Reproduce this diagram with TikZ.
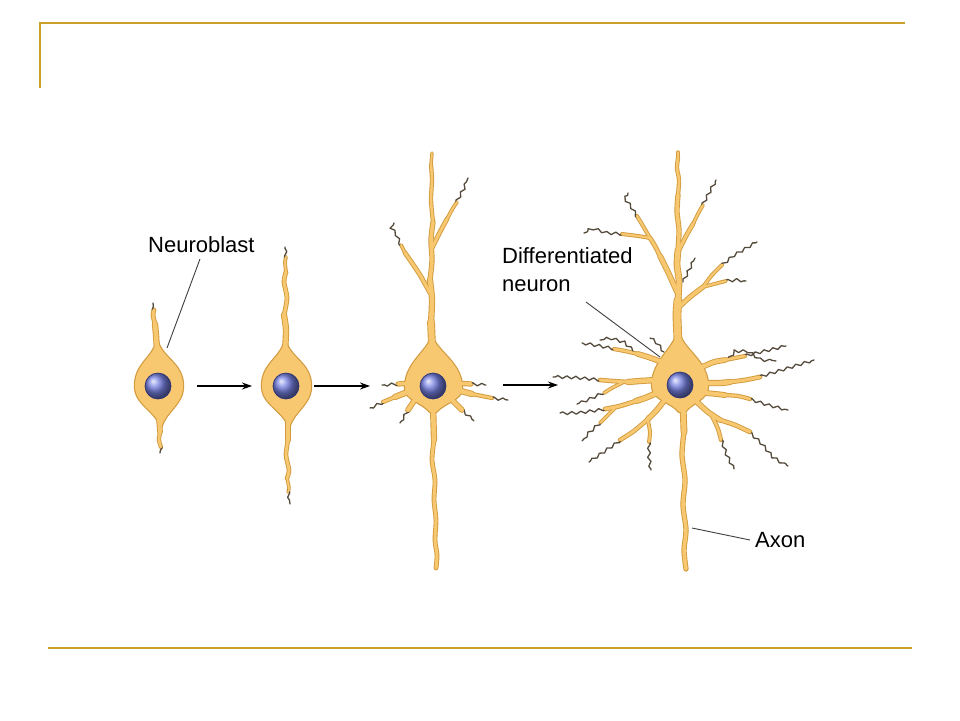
\documentclass[tikz,border=0pt]{standalone}
\usepackage{fontspec}
\setmainfont{Liberation Sans}
\usetikzlibrary{arrows.meta,decorations.pathmorphing}
\definecolor{framec}{RGB}{201,160,40}
\definecolor{fillc}{RGB}{247,200,112}
\definecolor{outc}{RGB}{210,155,62}
\definecolor{tipc}{RGB}{85,75,60}
\definecolor{nucc}{RGB}{118,128,225}
\definecolor{nucd}{RGB}{45,50,120}
\newcommand\seg[3]{\ifnum#1=0 \draw[outc,line width=#2+1.8,line cap=round,line join=round] plot[smooth] coordinates {#3};\else \draw[fillc,line width=#2,line cap=round,line join=round] plot[smooth] coordinates {#3};\fi}
\newcommand\tipl[2]{\ifnum#1=0 \draw[tipc,line width=1.3,line cap=round,line join=round,decorate,decoration={snake,amplitude=1.4,segment length=9}] plot coordinates {#2};\fi}
\newcommand\cbody[2]{\ifnum#1=0 \filldraw[fill=outc,draw=outc,line width=2.4,line join=round] #2;\else \fill[fillc] #2;\fi}
\newcommand\neuronA[1]{%
 \seg{#1}{4.5}{(157,350) (156,335) (155,324)}
 \seg{#1}{3}{(155,324) (153,315) (154,310)}
 \tipl{#1}{(154,312) (153,303)}
 \seg{#1}{4}{(159,418) (160,432)}
 \seg{#1}{2.5}{(160,432) (159,440) (161,447)}
 \tipl{#1}{(161,445) (160,453)}
 \cbody{#1}{(157,338) .. controls (160,358) and (183,362) .. (183,386) .. controls (183,405) and (166,410) .. (161,428) .. controls (156,410) and (135,405) .. (135,386) .. controls (135,362) and (155,358) .. (157,338) -- cycle}}
\newcommand\neuronB[1]{%
 \seg{#1}{4.5}{(285,350) (286,330) (284,315)}
 \seg{#1}{3}{(284,315) (287,298) (284,282) (286,272)}
 \seg{#1}{2}{(286,272) (285,262) (286,257)}
 \tipl{#1}{(286,259) (285,247)}
 \seg{#1}{4}{(288,418) (288,440)}
 \seg{#1}{2.8}{(288,440) (286,455) (289,470) (287,478)}
 \seg{#1}{1.8}{(287,478) (289,488) (288,492)}
 \tipl{#1}{(288,490) (290,504)}
 \cbody{#1}{(285,338) .. controls (288,358) and (311,362) .. (311,386) .. controls (311,405) and (294,410) .. (289,428) .. controls (284,410) and (262,405) .. (262,386) .. controls (262,362) and (283,358) .. (285,338) -- cycle}}
\newcommand\neuronC[1]{%
 \seg{#1}{6}{(432,345) (431,322)}
 \seg{#1}{4.5}{(431,322) (432,300) (430,280)}
 \seg{#1}{3.5}{(430,280) (432,260) (431,240) (433,222)}
 \seg{#1}{2.5}{(433,222) (431,200) (432,180) (431,165)}
 \seg{#1}{1.6}{(431,165) (432,153)}
 \seg{#1}{3}{(430,293) (420,275) (410,260) (405,253)}
 \seg{#1}{2}{(405,253) (401,245)}
 \tipl{#1}{(401,246) (397,236) (392,229) (394,223)}
 \seg{#1}{3}{(432,248) (440,232) (447,219)}
 \seg{#1}{2}{(447,219) (453,208) (457,202)}
 \tipl{#1}{(456,203) (463,190) (468,178)}
 \seg{#1}{3.5}{(412,383) (398,384)} \tipl{#1}{(399,384) (382,385)}
 \seg{#1}{4.5}{(410,391) (395,397)} \seg{#1}{2.5}{(395,397) (383,402)} \tipl{#1}{(384,402) (370,408)}
 \seg{#1}{4}{(416,398) (408,410)} \tipl{#1}{(409,409) (400,423)}
 \seg{#1}{3.5}{(455,383) (471,384)} \tipl{#1}{(470,384) (486,385)}
 \seg{#1}{4.5}{(457,390) (472,394)} \seg{#1}{2.5}{(472,394) (492,398)} \tipl{#1}{(491,398) (508,400)}
 \seg{#1}{4}{(451,399) (462,410)} \tipl{#1}{(461,409) (474,421)}
 \seg{#1}{4.5}{(433,405) (434,440)}
 \seg{#1}{3}{(434,440) (432,460) (435,480) (434,500) (436,520) (435,540) (437,555) (436,568)}
 \cbody{#1}{(432,335) .. controls (436,352) and (462,362) .. (462,388) .. controls (462,400) and (445,402) .. (436,412) -- (430,412) .. controls (422,402) and (405,400) .. (405,388) .. controls (405,362) and (428,352) .. (432,335) -- cycle}}
\newcommand\neuronD[1]{%
 \seg{#1}{7}{(678,340) (677,315) (678,300)}
 \seg{#1}{5}{(678,300) (679,280) (677,265) (678,250)}
 \seg{#1}{3.5}{(678,250) (679,230) (677,212) (678,195)}
 \seg{#1}{2.5}{(678,195) (679,180) (677,168) (678,158)}
 \seg{#1}{1.6}{(678,160) (678,152)}
 \seg{#1}{4}{(677,292) (668,272) (660,256)}
 \seg{#1}{3}{(660,256) (655,246) (650,238)}
 \seg{#1}{2.2}{(650,238) (643,226) (637,216)}
 \tipl{#1}{(638,218) (632,208) (626,200) (628,193)}
 \seg{#1}{2.2}{(650,238) (638,236) (622,234)}
 \tipl{#1}{(623,234) (608,233) (596,229) (584,233)}
 \seg{#1}{3}{(678,252) (686,236) (693,224)}
 \seg{#1}{2}{(693,224) (699,212) (703,205)}
 \tipl{#1}{(702,206) (709,193) (716,180)}
 \tipl{#1}{(683,282) (689,270) (695,258)}
 \seg{#1}{3.5}{(679,307) (690,297) (703,287)}
 \seg{#1}{2.2}{(703,287) (712,275) (722,265)}
 \tipl{#1}{(721,266) (733,256) (745,249) (757,242)}
 \seg{#1}{2}{(703,287) (718,283) (726,281)}
 \tipl{#1}{(725,281) (736,280) (746,281)}
 \seg{#1}{4}{(662,362) (648,357) (638,354)}
 \seg{#1}{2.5}{(638,354) (625,351) (614,349)}
 \tipl{#1}{(615,349) (600,346) (582,343)}
 \tipl{#1}{(636,353) (625,343) (612,339) (600,340)}
 \tipl{#1}{(664,352) (657,343) (650,338)}
 \seg{#1}{4.5}{(656,380) (640,381) (628,382)}
 \seg{#1}{2.8}{(628,382) (612,381) (600,380)}
 \tipl{#1}{(601,380) (580,378) (553,377)}
 \seg{#1}{2}{(622,383) (612,388) (604,393)}
 \tipl{#1}{(605,392) (592,398) (577,404)}
 \seg{#1}{4.5}{(657,393) (645,398) (636,401)}
 \seg{#1}{3}{(636,401) (620,406) (605,409)}
 \tipl{#1}{(606,409) (585,412) (560,413)}
 \seg{#1}{2}{(615,408) (607,416) (600,423)}
 \tipl{#1}{(601,422) (591,431) (582,441)}
 \seg{#1}{4}{(664,401) (656,411) (648,419)}
 \seg{#1}{2.8}{(648,419) (634,431) (620,440)}
 \tipl{#1}{(621,440) (605,451) (589,462)}
 \seg{#1}{2.2}{(648,421) (650,432) (649,442)}
 \tipl{#1}{(649,441) (649,455) (651,470)}
 \seg{#1}{4}{(702,367) (714,362) (725,360)}
 \seg{#1}{2.5}{(725,360) (735,358) (745,356)}
 \tipl{#1}{(744,356) (765,351) (786,346)}
 \tipl{#1}{(728,360) (735,351) (746,351) (756,358) (776,361)}
 \seg{#1}{4.5}{(706,383) (720,383) (730,382)}
 \seg{#1}{3}{(730,382) (745,380) (760,377)}
 \tipl{#1}{(759,377) (785,369) (814,360)}
 \seg{#1}{4}{(706,393) (716,394) (725,395)}
 \seg{#1}{2.5}{(725,395) (738,396) (750,399)}
 \tipl{#1}{(749,399) (768,405) (788,410)}
 \seg{#1}{4}{(697,402) (708,412) (720,420)}
 \seg{#1}{3}{(720,420) (735,425) (750,432)}
 \tipl{#1}{(749,432) (760,442) (770,454) (788,466)}
 \seg{#1}{2.5}{(712,416) (718,429) (721,440)}
 \tipl{#1}{(721,439) (726,453) (734,469)}
 \seg{#1}{5}{(683,405) (684,432)}
 \seg{#1}{3.5}{(684,432) (682,455) (685,480) (683,505) (686,530) (684,550) (686,569)}
 \cbody{#1}{(678,330) .. controls (682,350) and (708,360) .. (708,386) .. controls (708,400) and (692,402) .. (685,412) -- (679,412) .. controls (672,402) and (652,400) .. (652,386) .. controls (652,360) and (674,350) .. (678,330) -- cycle}}
\begin{document}
\begin{tikzpicture}[x=1pt,y=-1pt,
  frameline/.style={draw=framec,line width=2.4},
  nucleus/.style={circle,minimum size=26,inner sep=0,ball color=nucc,draw=nucd,line width=0.7},
  stagearrow/.style={-{Stealth[length=10pt,width=7pt]},line width=1.2,black},
  labline/.style={draw=black!75,line width=0.9},
  lab/.style={inner sep=0,anchor=base west,font=\fontsize{22}{28}\selectfont,align=left}]
\useasboundingbox (0,0) rectangle (960,720);
\fill[white] (0,0) rectangle (960,720);
\coordinate (ftl) at (40,23); \coordinate (ftr) at (905,23); \coordinate (fbl) at (40,88);
\coordinate (gbl) at (48,648); \coordinate (gbr) at (912,648);
\draw[frameline] (fbl) -- (ftl) -- (ftr);
\draw[frameline] (gbl) -- (gbr);
\neuronA{0}\neuronB{0}\neuronC{0}\neuronD{0}
\neuronA{1}\neuronB{1}\neuronC{1}\neuronD{1}
\node[nucleus] (n1) at (158,386) {};
\node[nucleus] (n2) at (286,386) {};
\node[nucleus] (n3) at (433,386) {};
\node[nucleus] (n4) at (680,385) {};
\coordinate (a1s) at (197,386); \coordinate (a1e) at (252,386);
\coordinate (a2s) at (314,386); \coordinate (a2e) at (370,386);
\coordinate (a3s) at (503,385); \coordinate (a3e) at (558,385);
\draw[stagearrow] (a1s) -- (a1e);
\draw[stagearrow] (a2s) -- (a2e);
\draw[stagearrow] (a3s) -- (a3e);
\node[lab] (lnb) at (148,252) {Neuroblast};
\node[lab] (ldn) at (502,291) {Differentiated\\neuron};
\node[lab] (lax) at (755,547) {Axon};
\coordinate (nbs) at (200,259); \coordinate (nbe) at (167,348);
\coordinate (dns) at (586,302); \coordinate (dne) at (660,357);
\coordinate (axs) at (750,540); \coordinate (axe) at (692,528);
\draw[labline] (nbs) -- (nbe);
\draw[labline] (dns) -- (dne);
\draw[labline] (axs) -- (axe);
\end{tikzpicture}
\end{document}
